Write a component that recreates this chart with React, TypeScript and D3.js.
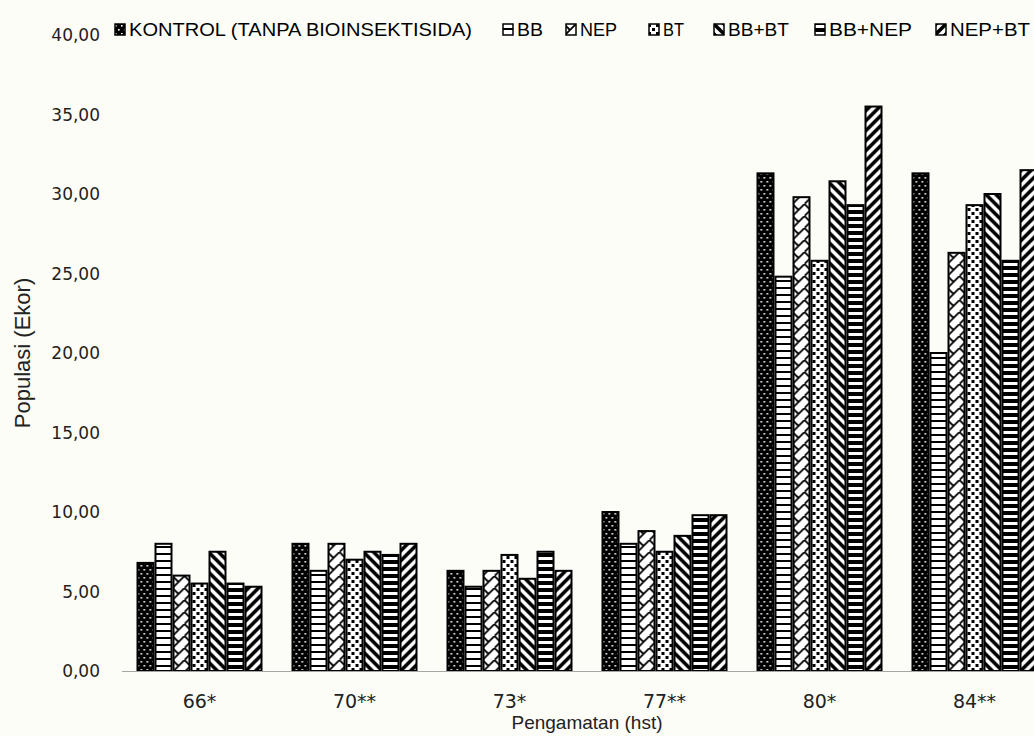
import React from "react";
import * as d3 from "d3";

// ---- data ----
const CATEGORIES = ["66*", "70**", "73*", "77**", "80*", "84**"];
const SERIES_NAMES = [
  "KONTROL (TANPA BIOINSEKTISIDA)",
  "BB",
  "NEP",
  "BT",
  "BB+BT",
  "BB+NEP",
  "NEP+BT",
];
const KONTROL = [6.8, 8.0, 6.3, 10.0, 31.3, 31.3];
const BB = [8.0, 6.3, 5.3, 8.0, 24.8, 20.0];
const NEP = [6.0, 8.0, 6.3, 8.8, 29.8, 26.3];
const BT = [5.5, 7.0, 7.3, 7.5, 25.8, 29.3];
const BB_BT = [7.5, 7.5, 5.8, 8.5, 30.8, 30.0];
const BB_NEP = [5.5, 7.3, 7.5, 9.8, 29.3, 25.8];
const NEP_BT = [5.3, 8.0, 6.3, 9.8, 35.5, 31.5];
const Y_TICKS = [0, 5, 10, 15, 20, 25, 30, 35, 40];

const SERIES_VALUES = [KONTROL, BB, NEP, BT, BB_BT, BB_NEP, NEP_BT];
const PATTERN_IDS = ["p-kontrol", "p-bb", "p-nep", "p-bt", "p-bbbt", "p-bbnep", "p-nepbt"];

// ---- layout ----
const W = 1034;
const H = 736;
const PLOT_LEFT = 122;
const PLOT_RIGHT = 1052; // the last group runs past the right edge
const Y_BOTTOM = 671;
const Y_TOP = 35;
const LEGEND_X = [115, 503, 566, 649, 714, 815, 936];
const LEGEND_TEXT_W = [343, 26, 37, 21, 61, 83, 80];
const LEGEND_BASELINE = 36;

const fmt = (v: number) => d3.format(".2f")(v).replace(".", ",");

function Patterns() {
  return (
    <defs>
      {/* dark dotted */}
      <pattern id="p-kontrol" patternUnits="userSpaceOnUse" width="6" height="8">
        <rect width="6" height="8" fill="#000" />
        <rect x="1" y="1" width="1.6" height="1.6" fill="#fff" />
        <rect x="4" y="5" width="1.6" height="1.6" fill="#fff" />
      </pattern>
      {/* narrow horizontal */}
      <pattern id="p-bb" patternUnits="userSpaceOnUse" width="8" height="7">
        <rect width="8" height="7" fill="#fff" />
        <rect y="0" width="8" height="2" fill="#000" />
      </pattern>
      {/* diagonal brick */}
      <pattern id="p-nep" patternUnits="userSpaceOnUse" width="12" height="12">
        <rect width="12" height="12" fill="#fff" />
        <path d="M-1,13 L13,-1 M0,0 L6,6" stroke="#000" strokeWidth="1.8" fill="none" />
      </pattern>
      {/* large confetti */}
      <pattern id="p-bt" patternUnits="userSpaceOnUse" width="8" height="8">
        <rect width="8" height="8" fill="#fff" />
        <rect x="0" y="0" width="3" height="3" fill="#000" />
        <rect x="4" y="4" width="3" height="3" fill="#000" />
      </pattern>
      {/* wide downward diagonal */}
      <pattern id="p-bbbt" patternUnits="userSpaceOnUse" width="10" height="10">
        <rect width="10" height="10" fill="#fff" />
        <path d="M-3,7 L3,13 M0,0 L10,10 M7,-3 L13,3" stroke="#000" strokeWidth="3.6" fill="none" />
      </pattern>
      {/* dark horizontal */}
      <pattern id="p-bbnep" patternUnits="userSpaceOnUse" width="8" height="7">
        <rect width="8" height="7" fill="#fff" />
        <rect y="0" width="8" height="4" fill="#000" />
      </pattern>
      {/* wide upward diagonal */}
      <pattern id="p-nepbt" patternUnits="userSpaceOnUse" width="10" height="10">
        <rect width="10" height="10" fill="#fff" />
        <path d="M-3,3 L3,-3 M0,10 L10,0 M7,13 L13,7" stroke="#000" strokeWidth="3.6" fill="none" />
      </pattern>
    </defs>
  );
}

export default function App() {
  const x0 = d3
    .scaleBand<string>()
    .domain(CATEGORIES)
    .range([PLOT_LEFT, PLOT_RIGHT])
    .paddingInner(0.187)
    .paddingOuter(0.0935);
  const x1 = d3
    .scaleBand<string>()
    .domain(SERIES_NAMES)
    .range([0, x0.bandwidth()]);
  const y = d3.scaleLinear().domain([0, 40]).range([Y_BOTTOM, Y_TOP]);

  const bw = x1.bandwidth();

  return (
    <svg
      width={W}
      height={H}
      viewBox={`0 0 ${W} ${H}`}
      style={{ position: "absolute", left: 0, top: 0, display: "block" }}
    >
      <Patterns />
      <rect width={W} height={H} fill="#fdfdf8" />

      {/* y tick labels */}
      <g fontFamily="DejaVu Sans" fontSize={17} fill="#222" textAnchor="end">
        {Y_TICKS.map((t) => (
          <text key={t} x={100} y={y(t)} dominantBaseline="central">
            {fmt(t)}
          </text>
        ))}
      </g>

      {/* bars */}
      <g>
        {CATEGORIES.map((c, ci) => (
          <g key={c} transform={`translate(${x0(c)},0)`}>
            {SERIES_NAMES.map((s, si) => {
              const v = SERIES_VALUES[si][ci];
              return (
                <rect
                  key={s}
                  x={(x1(s) as number) + 1}
                  y={y(v)}
                  width={bw - 2}
                  height={Y_BOTTOM - y(v)}
                  fill={`url(#${PATTERN_IDS[si]})`}
                  stroke="#000"
                  strokeWidth={2}
                />
              );
            })}
          </g>
        ))}
      </g>

      {/* x axis line */}
      <line x1={PLOT_LEFT} x2={W} y1={Y_BOTTOM + 0.5} y2={Y_BOTTOM + 0.5} stroke="#a6a6a6" strokeWidth={1} />

      {/* category labels */}
      <g fontFamily="DejaVu Sans" fontSize={19} fill="#222" textAnchor="middle">
        {CATEGORIES.map((c) => (
          <text key={c} x={(x0(c) as number) + x0.bandwidth() / 2} y={708}>
            {c}
          </text>
        ))}
      </g>

      {/* axis titles */}
      <text
        x={(PLOT_LEFT + PLOT_RIGHT) / 2}
        y={729}
        fontFamily="Liberation Sans"
        fontSize={19}
        fill="#222"
        textAnchor="middle"
      >
        Pengamatan (hst)
      </text>
      <text
        transform={`translate(30,${(Y_TOP + Y_BOTTOM) / 2}) rotate(-90)`}
        fontFamily="Liberation Sans"
        fontSize={22}
        fill="#222"
        textAnchor="middle"
      >
        Populasi (Ekor)
      </text>

      {/* legend */}
      <g fontFamily="Liberation Sans" fontSize={18} fill="#000">
        {SERIES_NAMES.map((s, si) => (
          <g key={s}>
            <rect
              x={LEGEND_X[si]}
              y={LEGEND_BASELINE - 12}
              width={10}
              height={11}
              fill={`url(#${PATTERN_IDS[si]})`}
              stroke="#000"
              strokeWidth={1.5}
            />
            <text
              x={LEGEND_X[si] + 14}
              y={LEGEND_BASELINE}
              textLength={LEGEND_TEXT_W[si]}
              lengthAdjust="spacingAndGlyphs"
            >
              {s}
            </text>
          </g>
        ))}
      </g>
    </svg>
  );
}
